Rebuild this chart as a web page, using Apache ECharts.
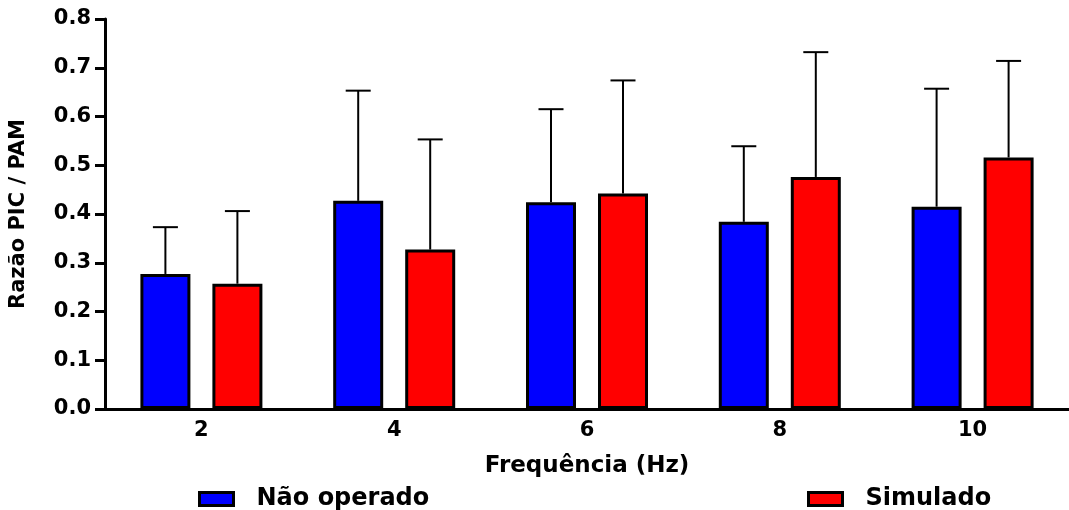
<!DOCTYPE html>
<html>
<head>
<meta charset="utf-8">
<script src="https://cdn.jsdelivr.net/npm/echarts@6/dist/echarts.min.js"></script>
<style>
html,body{margin:0;padding:0;background:#fff;}
#chart{width:1069px;height:510px;}
</style>
</head>
<body>
<div id="chart"></div>
<script>
// ---- data ----
var categories = ['2', '4', '6', '8', '10'];
var naoOperado = [0.277, 0.427, 0.424, 0.384, 0.415];
var naoOperadoSD = [0.096, 0.226, 0.191, 0.155, 0.242];
var simulado = [0.257, 0.327, 0.442, 0.476, 0.516];
var simuladoSD = [0.149, 0.226, 0.232, 0.256, 0.198];
var yTicks = [0, 0.1, 0.2, 0.3, 0.4, 0.5, 0.6, 0.7, 0.8];
var seriesNames = ['Não operado', 'Simulado'];

// ---- style ----
var FONT = 'DejaVu Sans';
var BAR_W = 50;
var GAP = 0.44;
var OFFSET = BAR_W * (1 + GAP) / 2;
var CAP = 25;

function errData(means, sds) {
  return means.map(function (m, i) { return [i, m, sds[i]]; });
}
function errRender(sign) {
  return function (params, api) {
    var i = api.value(0);
    var base = api.coord([i, api.value(1)]);
    var top = api.coord([i, api.value(1) + api.value(2)]);
    var x = base[0] + sign * OFFSET;
    var st = { stroke: '#000', lineWidth: 2 };
    return {
      type: 'group',
      children: [
        { type: 'line', shape: { x1: x, y1: base[1], x2: x, y2: top[1] }, style: st },
        { type: 'line', shape: { x1: x - CAP / 2, y1: top[1], x2: x + CAP / 2, y2: top[1] }, style: st }
      ]
    };
  };
}

var legendCommon = {
  itemWidth: 34, itemHeight: 13, top: 482,
  icon: 'rect', itemStyle: { borderColor: '#000', borderWidth: 3 },
  textStyle: { fontFamily: FONT, fontWeight: 'bold', fontSize: 24, color: '#000', padding: [0, 0, 0, 18] }
};

var chart = echarts.init(document.getElementById('chart'));
chart.setOption({
  animation: false,
  backgroundColor: '#fff',
  grid: { left: 104, right: -5, top: 19, bottom: 101, containLabel: false },
  legend: [
    Object.assign({ data: [seriesNames[0]], left: 193 }, legendCommon),
    Object.assign({ data: [seriesNames[1]], left: 802 }, legendCommon)
  ],
  xAxis: {
    type: 'category',
    data: categories,
    name: 'Frequência (Hz)',
    nameLocation: 'middle',
    nameGap: 46,
    nameTextStyle: { fontFamily: FONT, fontWeight: 'bold', fontSize: 23, color: '#000' },
    axisLine: { lineStyle: { color: '#000', width: 3 } },
    axisTick: { alignWithLabel: true, length: 7, lineStyle: { color: '#000', width: 3 } },
    axisLabel: { fontFamily: FONT, fontWeight: 'bold', fontSize: 21, color: '#000', margin: 11 },
    splitLine: { show: false }
  },
  yAxis: {
    type: 'value',
    min: yTicks[0],
    max: yTicks[yTicks.length - 1],
    interval: 0.1,
    name: 'Razão PIC / PAM',
    nameLocation: 'middle',
    nameGap: 76,
    nameTextStyle: { fontFamily: FONT, fontWeight: 'bold', fontSize: 21, color: '#000' },
    axisLine: { show: true, lineStyle: { color: '#000', width: 3 } },
    axisTick: { show: true, length: 10, lineStyle: { color: '#000', width: 3 } },
    axisLabel: {
      fontFamily: FONT, fontWeight: 'bold', fontSize: 21, color: '#000', margin: 14,
      formatter: function (v) { return v.toFixed(1); }
    },
    splitLine: { show: false }
  },
  series: [
    {
      name: seriesNames[0], type: 'bar', data: naoOperado, barWidth: BAR_W, barGap: (GAP * 100) + '%',
      itemStyle: { color: '#0000FF', borderColor: '#000', borderWidth: 3 }
    },
    {
      name: seriesNames[1], type: 'bar', data: simulado, barWidth: BAR_W, barGap: (GAP * 100) + '%',
      itemStyle: { color: '#FF0000', borderColor: '#000', borderWidth: 3 }
    },
    {
      name: 'errN', type: 'custom', data: errData(naoOperado, naoOperadoSD),
      renderItem: errRender(-1), z: 1, encode: { x: 0, y: 1 }
    },
    {
      name: 'errS', type: 'custom', data: errData(simulado, simuladoSD),
      renderItem: errRender(1), z: 1, encode: { x: 0, y: 1 }
    }
  ]
});
</script>
</body>
</html>
